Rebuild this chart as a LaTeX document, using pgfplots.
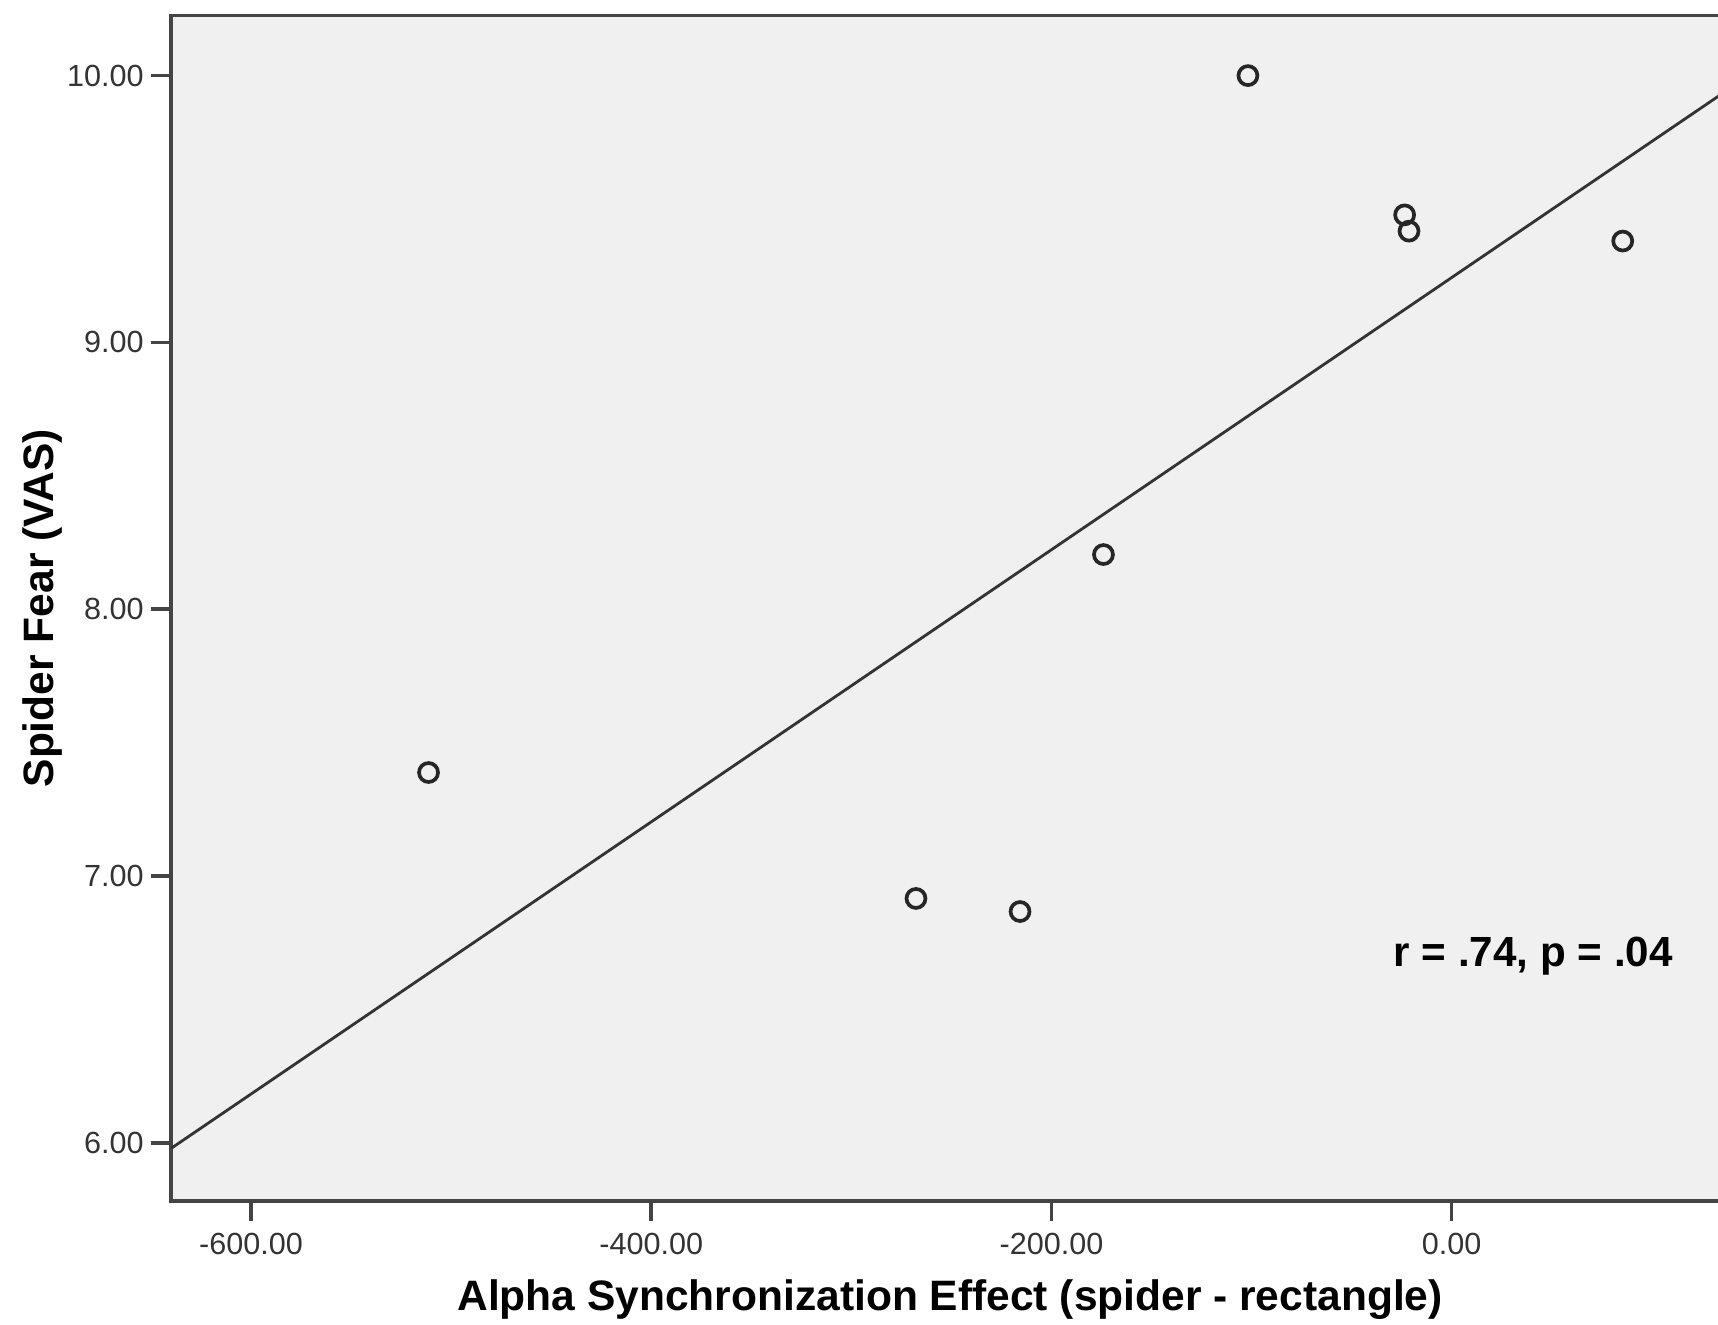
\documentclass[border=0pt]{standalone}
\usepackage{pgfplots}
\pgfplotsset{compat=1.18}
\usepackage{fontspec}
\setmainfont{Liberation Sans}
\definecolor{bgray}{HTML}{F0F0F0}
\definecolor{axgray}{HTML}{444444}
\begin{document}
\begin{tikzpicture}
\useasboundingbox (-1.71,-1.23) rectangle (15.47,12.01);
\clip (-1.71,-1.23) rectangle (15.47,12.01);
\begin{axis}[
  at={(0,0)}, anchor=south west,
  scale only axis, width=15.808cm, height=11.857cm,
  xmin=-640, xmax=150, ymin=5.782, ymax=10.226,
  axis background/.style={fill=bgray},
  axis line style={axgray, line width=1pt},
  xtick={-600,-400,-200,0}, ytick={6,7,8,9,10},
  xtick pos=lower, ytick pos=left,
  tick align=outside, major tick length=0.2cm,
  tick style={axgray, line width=1pt},
  ticklabel style={font=\fontsize{8.7}{10}\selectfont, text=black!80},
  yticklabel style={xshift=0.05cm},
  xticklabel={\pgfmathprintnumber[fixed, fixed zerofill, precision=2, assume math mode=true]{\tick}},
  yticklabel={\pgfmathprintnumber[fixed, fixed zerofill, precision=2, assume math mode=true]{\tick}},
  xlabel={Alpha Synchronization Effect (spider - rectangle)},
  ylabel={Spider Fear (VAS)},
  xlabel style={font=\bfseries\fontsize{12.1}{14}\selectfont, at={(axis description cs:0.4928,0)}, anchor=base, yshift=-1.09cm},
  ylabel style={font=\bfseries\fontsize{12.1}{14}\selectfont, at={(axis description cs:-0.0745,0.5)}, anchor=base},
  clip=true,
]
\addplot[only marks, mark=o, mark size=2.7pt, mark options={line width=1.05pt, draw=black!85}] coordinates {
  (-511.3,7.388) (-267.7,6.916) (-215.7,6.867) (-174.0,8.205)
  (-101.8,10.000) (-23.5,9.478) (-21.3,9.417) (85.5,9.380)
};
\addplot[no marks, black!80, line width=0.8pt] coordinates {(-640,5.979) (150,10.008)};
\node[anchor=base, font=\bfseries\fontsize{12}{14}\selectfont] at (axis cs:40.8,6.661) {r = .74, p = .04};
\end{axis}
\end{tikzpicture}
\end{document}
